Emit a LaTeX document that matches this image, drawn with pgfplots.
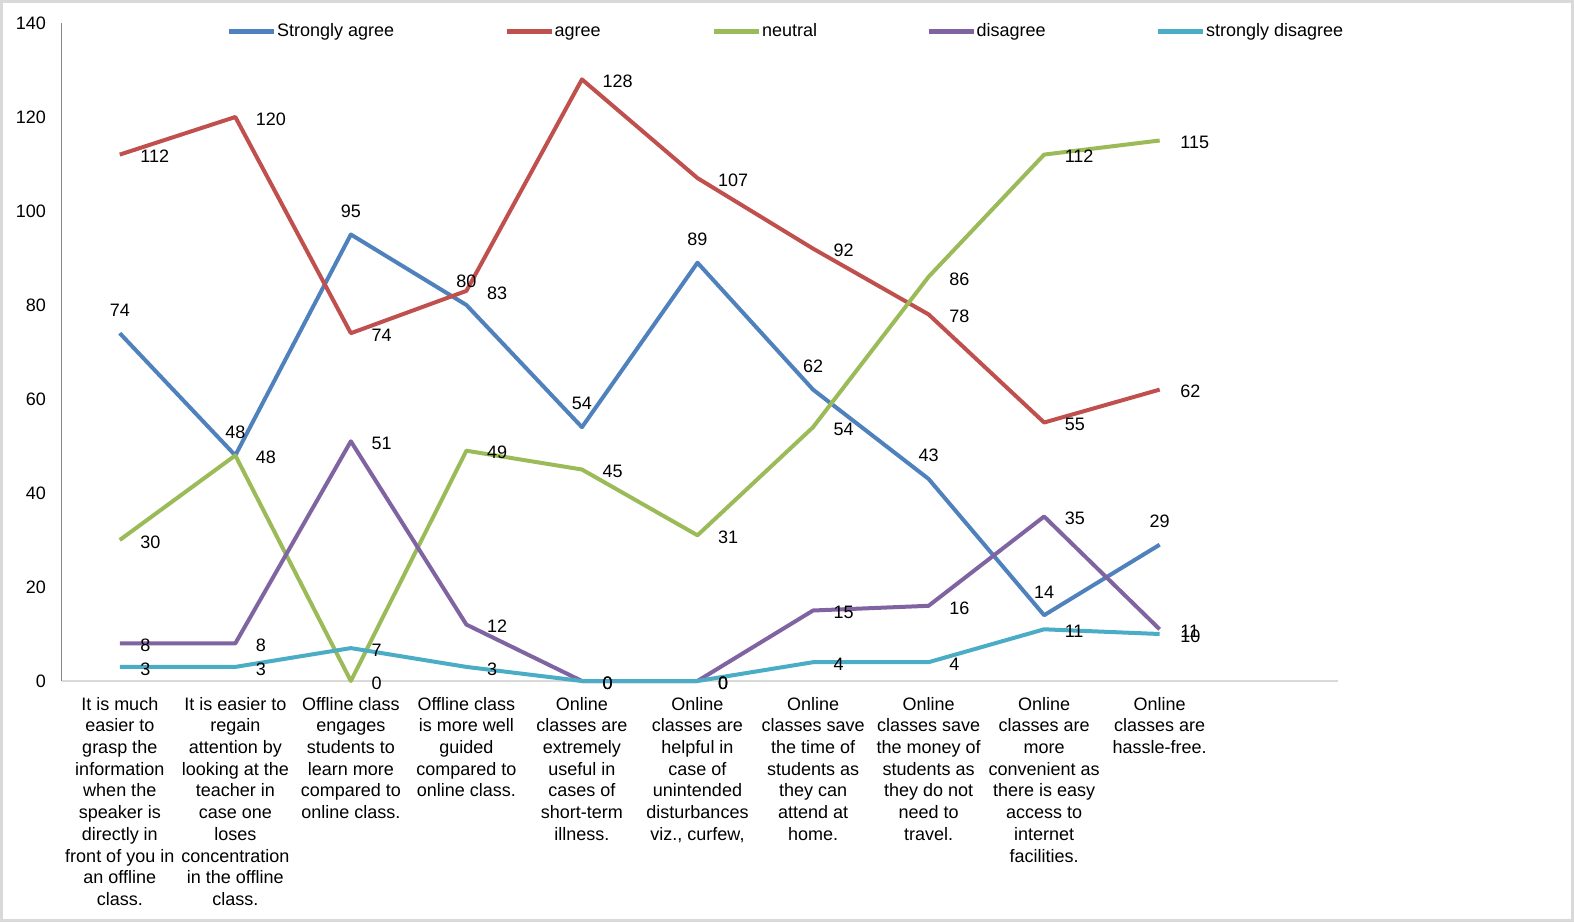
\documentclass[border=0pt]{standalone}
\usepackage{pgfplots}
\pgfplotsset{compat=1.18}
\usepackage{fontspec}
\setmainfont{Liberation Sans}
\definecolor{c1}{HTML}{4F81BD}
\definecolor{c2}{HTML}{C0504D}
\definecolor{c3}{HTML}{9BBB59}
\definecolor{c4}{HTML}{8064A2}
\definecolor{c5}{HTML}{4BACC6}
\definecolor{framec}{HTML}{D9D9D9}
\definecolor{yax}{HTML}{868686}
\newcommand{\f}{\fontsize{9}{10.85}\selectfont}
\pgfplotsset{
  lblR/.style={every node near coord/.append style={anchor=west, xshift=6pt, yshift=-1pt}},
  lblA/.style={every node near coord/.append style={anchor=south, yshift=4.2pt}},
}
\begin{document}
\begin{tikzpicture}
\useasboundingbox (-31pt,-120.5pt) rectangle (756pt,340.5pt);
\draw[framec, line width=1.5pt] (-30.25pt,-119.75pt) rectangle (755.25pt,339.75pt);
\begin{axis}[
  scale only axis, width=637.8pt, height=329pt,
  xmin=-0.5, xmax=10.54, ymin=0, ymax=140,
  ytick={0,20,...,140},
  xtick={0,...,9},
  xticklabels={
    {It is much\\easier to\\grasp the\\information\\when the\\speaker is\\directly in\\front of you in\\an offline\\class.},
    {It is easier to\\regain\\attention by\\looking at the\\teacher in\\case one\\loses\\concentration\\in the offline\\class.},
    {Offline class\\engages\\students to\\learn more\\compared to\\online class.},
    {Offline class\\is more well\\guided\\compared to\\online class.},
    {Online\\classes are\\extremely\\useful in\\cases of\\short-term\\illness.},
    {Online\\classes are\\helpful in\\case of\\unintended\\disturbances\\viz., curfew,},
    {Online\\classes save\\the time of\\students as\\they can\\attend at\\home.},
    {Online\\classes save\\the money of\\students as\\they do not\\need to\\travel.},
    {Online\\classes are\\more\\convenient as\\there is easy\\access to\\internet\\facilities.},
    {Online\\classes are\\hassle-free.}
  },
  axis x line=bottom, axis y line=left,
  axis line style={-},
  x axis line style={draw=framec, line width=0.75pt},
  y axis line style={draw=yax, line width=0.5pt},
  major tick length=0pt,
  tick label style={font=\f},
  /pgf/number format/assume math mode=true,
  xticklabel style={align=center, anchor=north, yshift=-4.5pt},
  yticklabel style={anchor=east, xshift=-4.5pt},
  clip=false,
  nodes near coords,
  every node near coord/.append style={font=\f, text=black},
  legend columns=5,
  legend cell align=left,
  legend style={draw=none, fill=none, inner sep=0pt, outer sep=0pt,
    at={(axis description cs:0,1)}, anchor=west, xshift=82.5pt, yshift=-4.2pt,
    font=\f, nodes={inner sep=0pt},
    /tikz/every odd column/.append style={column sep=0.3pt},
    /tikz/every even column/.append style={column sep=0pt}},
  legend image code/.code={\draw[line width=2.25pt] (0pt,0pt) -- (22.5pt,0pt);},
]
\addplot[c1, line width=2pt, line join=round, lblA] coordinates {
 (0,74) (1,48) (2,95) (3,80) (4,54) (5,89) (6,62) (7,43) (8,14) (9,29)};
\addplot[c2, line width=2pt, line join=round, lblR] coordinates {
 (0,112) (1,120) (2,74) (3,83) (4,128) (5,107) (6,92) (7,78) (8,55) (9,62)};
\addplot[c3, line width=2pt, line join=round, lblR] coordinates {
 (0,30) (1,48) (2,0) (3,49) (4,45) (5,31) (6,54) (7,86) (8,112) (9,115)};
\addplot[c4, line width=2pt, line join=round, lblR] coordinates {
 (0,8) (1,8) (2,51) (3,12) (4,0) (5,0) (6,15) (7,16) (8,35) (9,11)};
\addplot[c5, line width=2pt, line join=round, lblR] coordinates {
 (0,3) (1,3) (2,7) (3,3) (4,0) (5,0) (6,4) (7,4) (8,11) (9,10)};
\legend{\makebox[113.7pt][l]{\vphantom{Sg}Strongly agree},\makebox[78.7pt][l]{\vphantom{Sg}agree},\makebox[82.2pt][l]{\vphantom{Sg}neutral},\makebox[89.7pt][l]{\vphantom{Sg}disagree},\vphantom{Sg}strongly disagree}
\end{axis}
\end{tikzpicture}
\end{document}
